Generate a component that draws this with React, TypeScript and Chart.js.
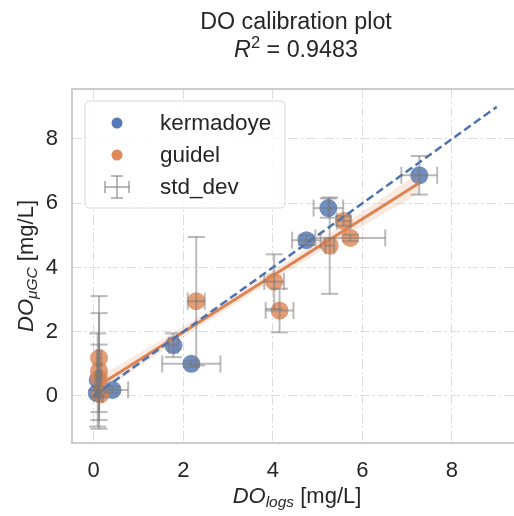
import React, { useEffect, useRef } from "react";
import { Chart, registerables } from "chart.js";

Chart.register(...registerables);

// ---------- data ----------
const kermX = [0.07, 0.42, 0.09, 1.78, 2.18, 4.75, 5.24, 7.27];
const kermY = [0.09, 0.19, 0.5, 1.58, 1.0, 4.85, 5.85, 6.87];
const kermXErr = [0.05, 0.35, 0.05, 0.1, 0.65, 0.32, 0.33, 0.4];
const kermYErr = [0.1, 0.1, 1.45, 0.37, 0.1, 0.15, 0.3, 0.6];

const guidX = [0.12, 0.12, 0.12, 0.15, 2.29, 4.03, 4.15, 5.27, 5.58, 5.73];
const guidY = [1.18, 0.78, 0.55, 0.05, 2.95, 3.56, 2.66, 4.68, 5.45, 4.92];
const guidXErr = [0.05, 0.05, 0.05, 0.05, 0.19, 0.22, 0.31, 0.1, 0.15, 0.78];
const guidYErr = [1.93, 1.8, 1.05, 0.1, 2.0, 0.85, 0.68, 1.5, 0.15, 0.1];

const fitX = [0.07, 7.27];
const fitY = [0.29, 6.63];
const bandX = [0.07, 2, 3.5, 5, 6, 7.27];
const bandLo = [0.04, 1.82, 3.16, 4.45, 5.28, 6.31];
const bandHi = [0.54, 2.16, 3.46, 4.81, 5.74, 6.95];

const idX = [0, 9];
const idY = [0, 9];

const xTicks = [0, 2, 4, 6, 8];
const yTicks = [0, 2, 4, 6, 8];

const seriesNames = ["kermadoye", "guidel", "std_dev"];
const titleLine1 = "DO calibration plot";
const r2Text = " = 0.9483";

const BLUE = "#4C72B0";
const ORANGE = "#DD8452";
const FONT = "'Liberation Sans', Arial, Helvetica, sans-serif";
const TEXT = "#262626";

const pts = (xs: number[], ys: number[]) => xs.map((x, i) => ({ x, y: ys[i] }));

type Run = { t: string; italic?: boolean; size: number; dy?: number };

function drawRuns(ctx: CanvasRenderingContext2D, runs: Run[], cx: number, baseY: number) {
  let total = 0;
  const widths = runs.map((r) => {
    ctx.font = `${r.italic ? "italic " : ""}${r.size}px ${FONT}`;
    const w = ctx.measureText(r.t).width;
    total += w;
    return w;
  });
  let x = cx - total / 2;
  ctx.textAlign = "left";
  ctx.textBaseline = "alphabetic";
  runs.forEach((r, i) => {
    ctx.font = `${r.italic ? "italic " : ""}${r.size}px ${FONT}`;
    ctx.fillText(r.t, x, baseY + (r.dy || 0));
    x += widths[i];
  });
}

const decorPlugin = {
  id: "decor",
  beforeDatasetsDraw(chart: any) {
    const { ctx, chartArea: a } = chart;
    ctx.save();
    ctx.strokeStyle = "#cccccc";
    ctx.lineWidth = 2;
    ctx.strokeRect(a.left, a.top, a.right - a.left, a.bottom - a.top);
    ctx.restore();
  },
  afterDatasetsDraw(chart: any) {
    const { ctx, scales } = chart;
    const xs = scales.x;
    const ys = scales.y;
    ctx.save();
    ctx.strokeStyle = "rgba(120,120,120,0.5)";
    ctx.lineWidth = 2;
    const cap = 8.5;
    const seg = (x1: number, y1: number, x2: number, y2: number) => {
      ctx.beginPath();
      ctx.moveTo(x1, y1);
      ctx.lineTo(x2, y2);
      ctx.stroke();
    };
    const bars = (X: number[], Y: number[], XE: number[], YE: number[]) => {
      X.forEach((xv, i) => {
        const px = xs.getPixelForValue(xv);
        const py = ys.getPixelForValue(Y[i]);
        const xl = xs.getPixelForValue(xv - XE[i]);
        const xr = xs.getPixelForValue(xv + XE[i]);
        const yt = ys.getPixelForValue(Y[i] + YE[i]);
        const yb = ys.getPixelForValue(Y[i] - YE[i]);
        seg(px, yt, px, yb);
        seg(xl, py, xr, py);
        seg(px - cap, yt, px + cap, yt);
        seg(px - cap, yb, px + cap, yb);
        seg(xl, py - cap, xl, py + cap);
        seg(xr, py - cap, xr, py + cap);
      });
    };
    bars(kermX, kermY, kermXErr, kermYErr);
    bars(guidX, guidY, guidXErr, guidYErr);
    ctx.restore();
  },
  afterDraw(chart: any) {
    const { ctx } = chart;
    ctx.save();
    ctx.fillStyle = TEXT;
    // title
    drawRuns(ctx, [{ t: titleLine1, size: 23.3 }], 296, 29);
    drawRuns(
      ctx,
      [
        { t: "R", italic: true, size: 23.3 },
        { t: "2", size: 16.5, dy: -9 },
        { t: r2Text, size: 23.3 },
      ],
      296,
      57
    );
    // x label
    drawRuns(
      ctx,
      [
        { t: "DO", italic: true, size: 22 },
        { t: "logs", italic: true, size: 15.5, dy: 4 },
        { t: " [mg/L]", size: 22 },
      ],
      297,
      503
    );
    // y label
    ctx.save();
    ctx.translate(33, 266);
    ctx.rotate(-Math.PI / 2);
    drawRuns(
      ctx,
      [
        { t: "DO", italic: true, size: 22 },
        { t: "μGC", italic: true, size: 15.5, dy: 4 },
        { t: " [mg/L]", size: 22 },
      ],
      0,
      0
    );
    ctx.restore();

    // legend
    const lx = 85, ly = 101, lw = 200, lh = 107, r = 5;
    ctx.beginPath();
    ctx.moveTo(lx + r, ly);
    ctx.lineTo(lx + lw - r, ly);
    ctx.quadraticCurveTo(lx + lw, ly, lx + lw, ly + r);
    ctx.lineTo(lx + lw, ly + lh - r);
    ctx.quadraticCurveTo(lx + lw, ly + lh, lx + lw - r, ly + lh);
    ctx.lineTo(lx + r, ly + lh);
    ctx.quadraticCurveTo(lx, ly + lh, lx, ly + lh - r);
    ctx.lineTo(lx, ly + r);
    ctx.quadraticCurveTo(lx, ly, lx + r, ly);
    ctx.closePath();
    ctx.fillStyle = "rgba(255,255,255,0.85)";
    ctx.fill();
    ctx.strokeStyle = "#d6d6d6";
    ctx.lineWidth = 1;
    ctx.stroke();

    const rows = [123, 155, 187];
    const mx = 117;
    ctx.fillStyle = "rgba(76,114,176,0.95)";
    ctx.beginPath();
    ctx.arc(mx, rows[0], 5.5, 0, Math.PI * 2);
    ctx.fill();
    ctx.fillStyle = "rgba(221,132,82,0.95)";
    ctx.beginPath();
    ctx.arc(mx, rows[1], 5.5, 0, Math.PI * 2);
    ctx.fill();
    ctx.strokeStyle = "rgba(120,120,120,0.5)";
    ctx.lineWidth = 2;
    const ey = rows[2];
    const segs = [
      [mx - 12, ey, mx + 12, ey],
      [mx, ey - 11, mx, ey + 11],
      [mx - 12, ey - 6, mx - 12, ey + 6],
      [mx + 12, ey - 6, mx + 12, ey + 6],
      [mx - 6, ey - 11, mx + 6, ey - 11],
      [mx - 6, ey + 11, mx + 6, ey + 11],
    ];
    segs.forEach(([a, b, c, d]) => {
      ctx.beginPath();
      ctx.moveTo(a, b);
      ctx.lineTo(c, d);
      ctx.stroke();
    });
    ctx.fillStyle = TEXT;
    ctx.font = `22.5px ${FONT}`;
    ctx.textAlign = "left";
    ctx.textBaseline = "middle";
    seriesNames.forEach((n, i) => ctx.fillText(n, 160, rows[i] + 1));
    ctx.restore();
  },
};

export default function App() {
  const ref = useRef<HTMLCanvasElement>(null);
  useEffect(() => {
    if (!ref.current) return;
    const tickFix = (vals: number[]) => (s: any) => {
      s.ticks = vals.map((v) => ({ value: v }));
    };
    const chart = new Chart(ref.current, {
      type: "scatter",
      data: {
        datasets: [
          {
            type: "line",
            label: "identity",
            data: pts(idX, idY),
            borderColor: BLUE,
            borderWidth: 2.5,
            borderDash: [8, 4],
            pointRadius: 0,
            fill: false,
            order: 1,
          } as any,
          {
            type: "line",
            label: "fit",
            data: pts(fitX, fitY),
            borderColor: ORANGE,
            borderWidth: 3,
            pointRadius: 0,
            fill: false,
            order: 2,
          } as any,
          {
            type: "line",
            label: "ciHi",
            data: pts(bandX, bandHi),
            borderWidth: 0,
            borderColor: "rgba(0,0,0,0)",
            pointRadius: 0,
            fill: false,
            tension: 0.3,
            order: 3,
          } as any,
          {
            type: "line",
            label: "ciLo",
            data: pts(bandX, bandLo),
            borderWidth: 0,
            borderColor: "rgba(0,0,0,0)",
            backgroundColor: "rgba(221,132,82,0.17)",
            pointRadius: 0,
            fill: 2,
            tension: 0.3,
            order: 3,
          } as any,
          {
            label: seriesNames[1],
            data: pts(guidX, guidY),
            backgroundColor: "rgba(221,132,82,0.8)",
            borderWidth: 0,
            pointRadius: 9,
            order: 5,
          },
          {
            label: seriesNames[0],
            data: pts(kermX, kermY),
            backgroundColor: "rgba(76,114,176,0.8)",
            borderWidth: 0,
            pointRadius: 9,
            order: 6,
          },
        ],
      },
      options: {
        responsive: false,
        animation: false,
        devicePixelRatio: 1,
        layout: { padding: { left: 0, top: 89, right: 2, bottom: 0 } },
        plugins: { legend: { display: false }, tooltip: { enabled: false }, title: { display: false } },
        scales: {
          x: {
            type: "linear",
            min: -0.484,
            max: 9.407,
            afterBuildTicks: tickFix(xTicks),
            afterFit: (s: any) => {
              s.height = 73;
            },
            ticks: { color: TEXT, font: { size: 22, family: FONT }, padding: 15, maxRotation: 0 },
            grid: { color: "#dedede", lineWidth: 1, drawTicks: false },
            border: { display: false, dash: [10, 3, 2, 3] },
          },
          y: {
            type: "linear",
            min: -1.463,
            max: 9.556,
            afterBuildTicks: tickFix(yTicks),
            afterFit: (s: any) => {
              s.width = 72;
            },
            ticks: { color: TEXT, font: { size: 22, family: FONT }, padding: 14 },
            grid: { color: "#dedede", lineWidth: 1, drawTicks: false },
            border: { display: false, dash: [10, 3, 2, 3] },
          },
        },
      },
      plugins: [decorPlugin],
    });
    return () => chart.destroy();
  }, []);
  return (
    <div style={{ position: "fixed", left: 0, top: 0, width: 514, height: 516, overflow: "hidden", background: "#fff" }}>
      <canvas ref={ref} width={524} height={516} style={{ display: "block" }} />
    </div>
  );
}
